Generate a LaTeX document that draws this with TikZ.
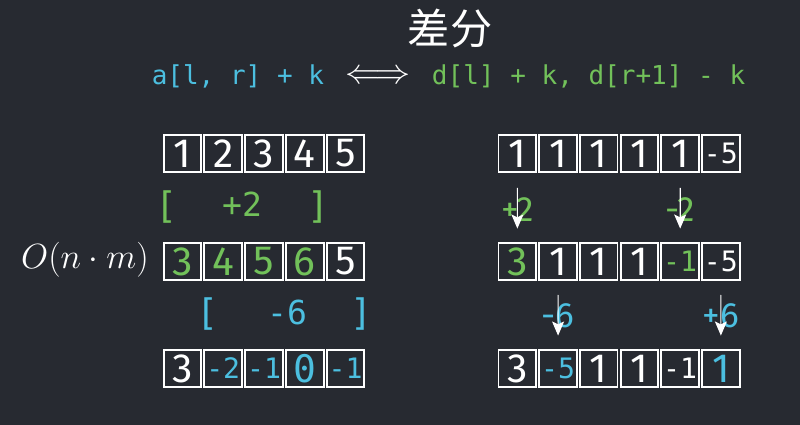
\documentclass[tikz,border=0pt]{standalone}
\usepackage{fontspec}
\usepackage{tikz}
\usetikzlibrary{arrows.meta}
\newfontfamily\cjkfont{Noto Sans CJK SC}
\newfontfamily\codefont{DejaVu Sans Mono}
\newfontfamily\numfont{Fira Sans}
\definecolor{bg}{RGB}{39,42,49}
\definecolor{grn}{RGB}{114,193,90}
\definecolor{cyn}{RGB}{76,191,224}
\tikzset{
  cell/.style={draw=white,line width=1.3pt,minimum size=0.94cm,inner sep=0pt,text=white,font=\numfont\fontsize{29}{32}\selectfont},
  one/.style={},
  two/.style={font=\codefont\fontsize{20}{22}\selectfont},
  zero/.style={font=\codefont\fontsize{27}{30}\selectfont},
  code/.style={font=\codefont\fontsize{18.5}{22}\selectfont},
  brk/.style={anchor=base,font=\codefont\fontsize{26}{30}\selectfont},
  amt/.style={anchor=base,font=\codefont\fontsize{23.5}{26}\selectfont},
  tag/.style={anchor=base,font=\numfont\fontsize{25}{28}\selectfont},
  down/.style={draw=white,line width=0.8pt,-{Stealth[length=10pt,width=8.5pt,inset=2pt]},shorten >=0.33cm}
}

\begin{document}
\begin{tikzpicture}[x=0.025cm,y=-0.025cm]
  \fill[bg] (0,0) rectangle (800,425);
  \useasboundingbox (0,0) rectangle (800,425);
  % title and formula
  \node[text=white,font=\cjkfont\fontsize{30}{34}\selectfont] (title) at (450,28) {差分};
  \node[code,anchor=base east,text=cyn] (lhs) at (329,85) {a[l, r] + k};
  \node[text=white,font=\fontsize{25}{30}\selectfont] (iff) at (378,77) {$\Longleftrightarrow$};
  \node[code,anchor=base west,text=grn] (rhs) at (427,85) {d[l] + k, d[r+1] - k};

  % left: add on every cell
  \foreach \v/\c/\f [count=\i] in {1/white/one,2/white/one,3/white/one,4/white/one,5/white/one}
    \node[cell,\f,text=\c] (a\i) at ({162+40.8*(\i-0.5)},153.5) {\v};
  \node[brk,text=grn] (ba1) at (167,219) {[};
  \node[amt,text=grn] (ba2) at (242,217) {+2};
  \node[brk,text=grn] (ba3) at (318,219) {]};
  \foreach \v/\c/\f [count=\i] in {3/grn/one,4/grn/one,5/grn/one,6/grn/one,5/white/one}
    \node[cell,\f,text=\c] (b\i) at ({162+40.8*(\i-0.5)},261.5) {\v};
  \node[text=white,font=\fontsize{23}{28}\selectfont] (cost) at (85,260) {$O(n\cdot m)$};
  \node[brk,text=cyn] (bb1) at (208,325) {[};
  \node[amt,text=cyn] (bb2) at (287,324) {-6};
  \node[brk,text=cyn] (bb3) at (361,325) {]};
  \foreach \v/\c/\f [count=\i] in {3/white/one,-2/cyn/two,-1/cyn/two,0/cyn/zero,-1/cyn/two}
    \node[cell,\f,text=\c] (c\i) at ({162+40.8*(\i-0.5)},368.5) {\v};

  % right: difference array
  \foreach \v/\c/\f [count=\i] in {1/white/one,1/white/one,1/white/one,1/white/one,1/white/one,-5/white/two}
    \node[cell,\f,text=\c] (d\i) at ({497+40.7*(\i-0.5)},153.5) {\v};
  \foreach \v/\c/\f [count=\i] in {3/grn/one,1/white/one,1/white/one,1/white/one,-1/grn/two,-5/white/two}
    \node[cell,\f,text=\c] (e\i) at ({497+40.7*(\i-0.5)},261.5) {\v};
  \foreach \v/\c/\f [count=\i] in {3/white/one,-5/cyn/two,1/white/one,1/white/one,-1/white/two,1/cyn/one}
    \node[cell,\f,text=\c] (f\i) at ({497+40.7*(\i-0.5)},368.5) {\v};

  % changes and arrows
  \node[tag,text=grn] (t1) at (517.4,222) {+2};
  \node[tag,text=grn] (t2) at (680.2,222) {-2};
  \node[tag,text=cyn] (t3) at (558.1,327) {-6};
  \node[tag,text=cyn] (t4) at (720.9,327) {+6};
  \coordinate (p1) at (517.4,188);
  \coordinate (p2) at (680.2,188);
  \coordinate (p3) at (558.1,295);
  \coordinate (p4) at (720.9,295);
  \draw[down] (p1) -- (e1);
  \draw[down] (p2) -- (e5);
  \draw[down] (p3) -- (f2);
  \draw[down] (p4) -- (f6);
\end{tikzpicture}
\end{document}
